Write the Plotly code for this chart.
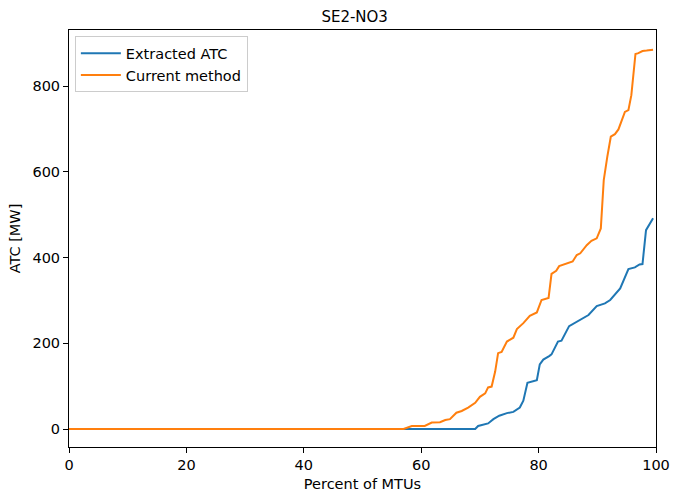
import plotly.graph_objects as go

# Extracted ATC (blue)
ext_x = [0, 69.2, 69.7, 71.4, 72.3, 73.3, 74.6, 75.7, 76.8, 77.4, 78.1, 79.7, 80.2, 80.8, 81.8,
         82.2, 83.3, 83.9, 85.2, 86.2, 87.3, 88.5, 89.9, 91.3, 92.2, 93.0, 93.9, 95.3, 96.4,
         97.2, 97.7, 98.3, 99.0, 99.5]
ext_y = [0, 0, 7, 13, 23, 31, 37, 40, 50, 66, 108, 114, 151, 162, 170,
         174, 204, 206, 240, 248, 258, 266, 287, 293, 301, 313, 328, 373, 377,
         384, 385, 464, 480, 492]

# Current method (orange)
cur_x = [0, 57.0, 58.4, 60.6, 61.8, 63.2, 64.1, 64.9, 66.0, 66.9, 68.0, 69.2, 70.0, 70.9,
         71.4, 72.0, 72.6, 73.1, 73.7, 74.6, 75.7, 76.3, 77.4, 78.5, 79.7, 80.5, 81.7,
         82.2, 83.0, 83.5, 85.8, 86.5, 87.1, 88.2, 89.0, 89.9, 90.6, 91.1, 91.7, 92.3,
         93.0, 93.6, 94.7, 95.3, 95.8, 96.5, 97.0, 97.7, 98.4, 99.5]
cur_y = [0, 0, 7, 7, 15, 16, 21, 23, 38, 42, 50, 61, 75, 83,
         97, 99, 134, 177, 180, 204, 213, 233, 247, 264, 272, 301, 306,
         362, 369, 380, 391, 406, 410, 429, 439, 445, 468, 581, 635, 682,
         688, 699, 740, 744, 779, 875, 877, 882, 883, 885]

x_ticks = [0, 20, 40, 60, 80, 100]
y_ticks = [0, 200, 400, 600, 800]

FS = 14.5

fig = go.Figure()
fig.add_trace(go.Scatter(x=ext_x, y=ext_y, mode="lines", name="Extracted ATC",
                         line=dict(color="#1f77b4", width=2)))
fig.add_trace(go.Scatter(x=cur_x, y=cur_y, mode="lines", name="Current method",
                         line=dict(color="#ff7f0e", width=2)))

axis_common = dict(showline=True, linecolor="black", linewidth=1, mirror=True,
                   ticks="outside", ticklen=5, tickcolor="black", showgrid=False,
                   zeroline=False, tickfont=dict(size=FS, color="black"),
                   automargin=False)

fig.update_layout(
    width=673, height=492,
    margin=dict(l=69, r=17, t=30, b=45, autoexpand=False),
    paper_bgcolor="white", plot_bgcolor="white",
    font=dict(family="DejaVu Sans", color="black", size=FS),
    title=dict(text="SE2-NO3", x=0.527, xanchor="center", y=0.965, yanchor="middle",
               font=dict(family="DejaVu Sans", size=15, color="black")),
    xaxis=dict(range=[0, 100], tickvals=x_ticks,
               title=dict(text="Percent of MTUs", font=dict(size=FS), standoff=7),
               **axis_common),
    yaxis=dict(range=[-42, 931], tickvals=y_ticks,
               title=dict(text="ATC [MW]", font=dict(size=FS), standoff=8),
               **axis_common),
    legend=dict(x=0.01, y=0.985, xanchor="left", yanchor="top",
                bgcolor="rgba(255,255,255,0.8)", bordercolor="#cccccc", borderwidth=1,
                font=dict(size=FS), itemwidth=40),
    showlegend=True,
)

fig.write_html("out.html", config={"displayModeBar": False},
               post_script="document.body.style.margin='0';document.body.style.overflow='hidden';")
